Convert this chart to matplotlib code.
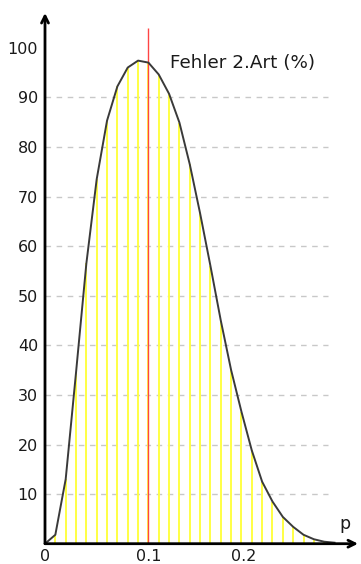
import matplotlib
matplotlib.use("Agg")
import matplotlib.pyplot as plt
import matplotlib.transforms as mtransforms

# Operating characteristic: probability of a type II error (in %) versus true p
p_values = [0.00, 0.01, 0.02, 0.03, 0.04, 0.05, 0.06, 0.07, 0.08, 0.09,
            0.10, 0.11, 0.12, 0.13, 0.14, 0.15, 0.16, 0.17, 0.18, 0.19,
            0.20, 0.21, 0.22, 0.23, 0.24, 0.25, 0.26, 0.27, 0.28]
beta_pct = [0.0, 1.8, 13.0, 34.5, 56.5, 73.5, 85.3, 92.2, 96.0, 97.4,
            97.0, 94.6, 90.7, 84.9, 76.5, 66.6, 56.0, 45.0, 35.0, 26.6,
            18.8, 12.5, 8.5, 5.4, 3.4, 1.8, 0.9, 0.4, 0.2]
p0 = 0.10
y_ticks = [10, 20, 30, 40, 50, 60, 70, 80, 90, 100]
grid_levels = [10, 20, 30, 40, 50, 60, 70, 80, 90]
x_ticks = [0, 0.1, 0.2]
x_ticklabels = ["0", "0.1", "0.2"]
title_text = "Fehler 2.Art (%)"
x_name = "p"

W, H, DPI = 361, 564, 100
fig = plt.figure(figsize=(W / DPI, H / DPI), dpi=DPI)
fig.patch.set_facecolor("white")

x_max = 0.3027
y_max = 107.0
ax = fig.add_axes([45 / W, 20.3 / H, 313 / W, 530.7 / H])
ax.set_xlim(0, x_max)
ax.set_ylim(0, y_max)
ax.set_facecolor("white")
for s in ax.spines.values():
    s.set_visible(False)

# dashed horizontal guides
ax.hlines(grid_levels, 0, 0.274, colors="#c8c8c8", linestyles=(0, (4, 4)),
          linewidth=1.0, zorder=1)

# yellow stems under the curve
ax.vlines(p_values, 0, beta_pct, colors="#ffff44", linewidth=1.4, zorder=2)

# reference value p0
ax.vlines([p0], 0, 104, colors="#ff4444", linewidth=1.0, zorder=3)

# curve through the points
ax.plot(p_values, beta_pct, color="#3a3a3a", linewidth=1.4, zorder=4,
        solid_joinstyle="round")

# axes with arrow heads
arrow_kw = dict(arrowstyle="->,head_length=0.5,head_width=0.25",
                color="black", lw=2.0, shrinkA=0, shrinkB=0)
ax.annotate("", xy=(x_max, 0), xytext=(0, 0), arrowprops=arrow_kw,
            annotation_clip=False, zorder=6)
ax.annotate("", xy=(0, y_max), xytext=(0, 0), arrowprops=arrow_kw,
            annotation_clip=False, zorder=6)

text_color = "#1a1a1a"
ax.set_yticks(y_ticks)
ax.set_yticklabels([str(v) for v in y_ticks])
ax.set_xticks(x_ticks)
ax.set_xticklabels(x_ticklabels)
ax.tick_params(axis="both", length=0, labelsize=11.5, labelcolor=text_color)
ax.tick_params(axis="y", pad=5)
ax.tick_params(axis="x", pad=4)

# the 0.2 label sits slightly left of its tick
lbl = ax.get_xticklabels()[2]
lbl.set_transform(lbl.get_transform() +
                  mtransforms.ScaledTranslation(-8 / DPI, 0, fig.dpi_scale_trans))

ax.text(0.121, 96.9, title_text, fontsize=13.2, color=text_color,
        ha="left", va="center", zorder=7)
ax.text(0.2905, 4.0, x_name, fontsize=12.5, color=text_color,
        ha="center", va="center", zorder=7, clip_on=False)

fig.savefig("out.png", dpi=DPI, facecolor="white")
